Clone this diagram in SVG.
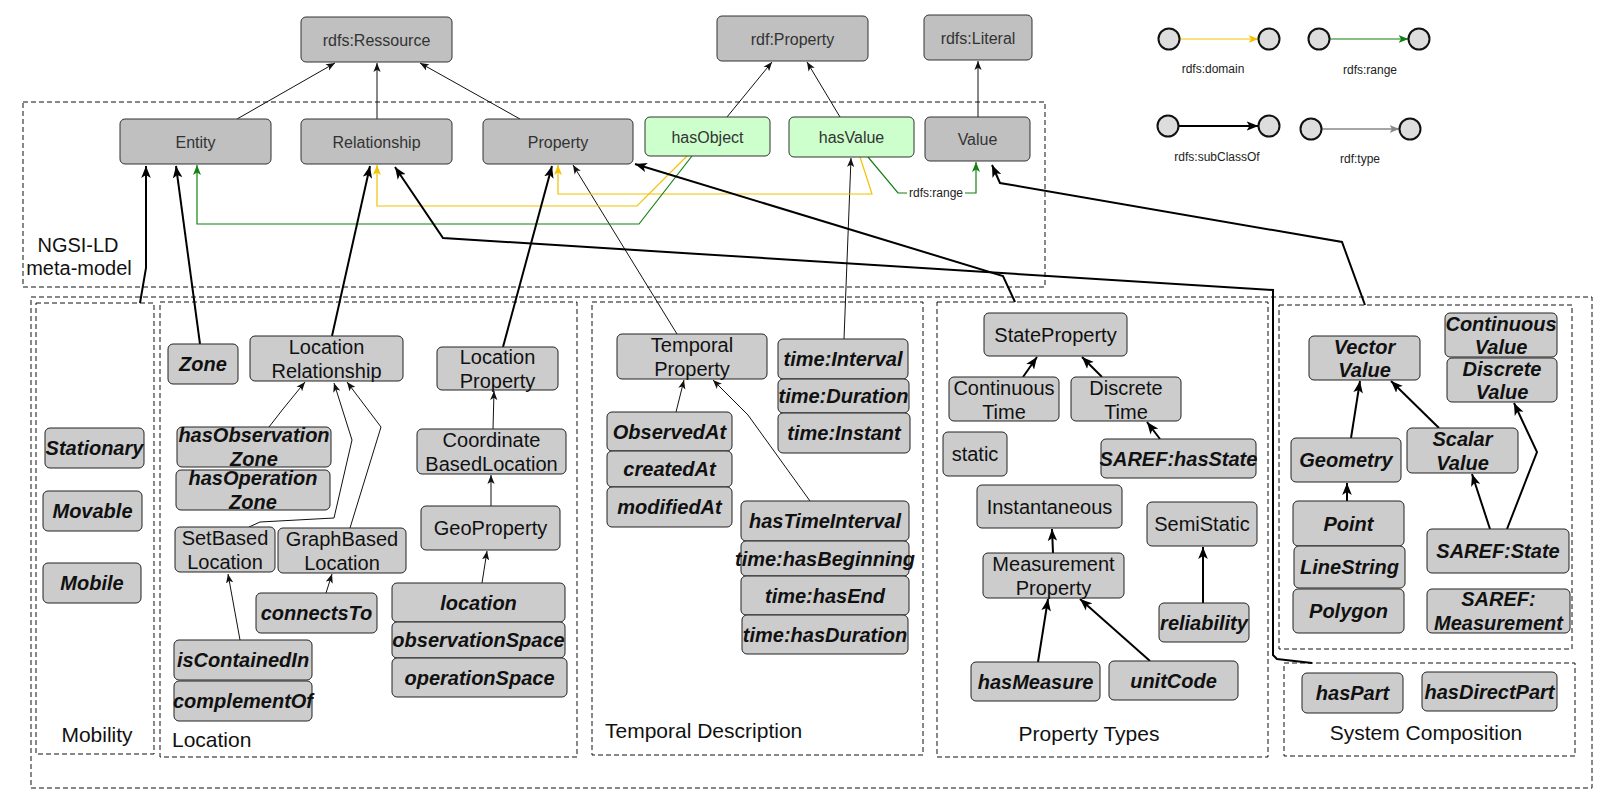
<svg xmlns="http://www.w3.org/2000/svg" width="1608" height="804" viewBox="0 0 1608 804">
<defs>
<style>
.bg{fill:#ffffff}
.n1{fill:#c0c0c0;stroke:#333;stroke-width:1}
.ng{fill:#ccffcc;stroke:#333;stroke-width:1}
.n2{fill:#cccccc;stroke:#222;stroke-width:1}
.t16{font-family:"Liberation Sans",Arial,sans-serif;font-size:16px;fill:#333;text-anchor:middle}
.t20{font-family:"Liberation Sans",Arial,sans-serif;font-size:20px;fill:#111;text-anchor:middle}
.tb{font-family:"Liberation Sans",Arial,sans-serif;font-size:20px;font-weight:bold;font-style:italic;fill:#111;text-anchor:middle}
.sec{font-family:"Liberation Sans",Arial,sans-serif;font-size:21px;fill:#111}
.lg{font-family:"Liberation Sans",Arial,sans-serif;font-size:12px;fill:#222;text-anchor:middle}
.dash{fill:none;stroke:#111;stroke-width:1;stroke-dasharray:5 3}
.thin{fill:none;stroke:#111;stroke-width:1;marker-end:url(#a)}
.thick{fill:none;stroke:#000;stroke-width:2;marker-end:url(#A)}
.yel{fill:none;stroke:#f2c200;stroke-width:1.2;marker-end:url(#ay)}
.grn{fill:none;stroke:#138013;stroke-width:1.2}
.grna{marker-end:url(#ag)}
.gry{fill:none;stroke:#888;stroke-width:1.5;marker-end:url(#ak)}
.circ{fill:#dddddd;stroke:#111;stroke-width:2}
</style>
<marker id="a" viewBox="0 0 10 8" refX="10" refY="4" markerWidth="9" markerHeight="8" markerUnits="userSpaceOnUse" orient="auto"><path d="M0,0 L10,4 L0,8 L2.5,4 z" fill="#111"/></marker>
<marker id="A" viewBox="0 0 10 8" refX="10" refY="4" markerWidth="12" markerHeight="10" markerUnits="userSpaceOnUse" orient="auto"><path d="M0,0 L10,4 L0,8 L2.5,4 z" fill="#000"/></marker>
<marker id="ay" viewBox="0 0 10 8" refX="10" refY="4" markerWidth="10" markerHeight="9" markerUnits="userSpaceOnUse" orient="auto"><path d="M0,0 L10,4 L0,8 L2.5,4 z" fill="#f2c200"/></marker>
<marker id="ag" viewBox="0 0 10 8" refX="10" refY="4" markerWidth="10" markerHeight="9" markerUnits="userSpaceOnUse" orient="auto"><path d="M0,0 L10,4 L0,8 L2.5,4 z" fill="#138013"/></marker>
<marker id="ak" viewBox="0 0 10 8" refX="10" refY="4" markerWidth="10" markerHeight="9" markerUnits="userSpaceOnUse" orient="auto"><path d="M0,0 L10,4 L0,8 L2.5,4 z" fill="#888"/></marker>
</defs>
<rect class="bg" x="0" y="0" width="1608" height="804"/>

<g id="containers">
<rect class="dash" x="23" y="102" width="1022" height="185"/>
<rect class="dash" x="31" y="297" width="1561" height="491"/>
<rect class="dash" x="36" y="303" width="118" height="451"/>
<rect class="dash" x="160" y="302" width="417" height="455"/>
<rect class="dash" x="592" y="302" width="331" height="453"/>
<rect class="dash" x="937" y="302" width="331" height="455"/>
<rect class="dash" x="1279" y="305" width="293" height="344"/>
<rect class="dash" x="1284" y="663" width="291" height="93"/>
<text class="sec" x="78" y="252" text-anchor="middle" style="font-size:20px">NGSI-LD</text>
<text class="sec" x="79" y="275" text-anchor="middle" style="font-size:20px">meta-model</text>
<text class="sec" x="97" y="742" text-anchor="middle">Mobility</text>
<text class="sec" x="172" y="747">Location</text>
<text class="sec" x="605" y="738">Temporal Description</text>
<text class="sec" x="1089" y="741" text-anchor="middle">Property Types</text>
<text class="sec" x="1426" y="740" text-anchor="middle">System Composition</text>
</g>

<g id="connectors">
<path class="thin" d="M237,119 L335,63"/>
<path class="thin" d="M377,119 L377,63"/>
<path class="thin" d="M520,119 L420,63"/>
<path class="thin" d="M727,117 L772,62"/>
<path class="thin" d="M840,117 L807,62"/>
<path class="thin" d="M978,117 L978,61"/>
<path class="thin" d="M677,334 L573,165"/>
<path class="thin" d="M844,339 L851,158"/>
<path class="yel" d="M687,156 L637,206 L377,206 L377,165"/>
<path class="yel" d="M860,157 L872,194 L558,194 L558,165"/>
<path class="grn grna" d="M692,156 L639,224 L197,224 L197,165"/>
<path class="grn" d="M868,157 L898,193 L907,193"/>
<path class="grn grna" d="M965,193 L976,193 L976,162"/>
<text class="lg" x="936" y="197">rdfs:range</text>
<path class="thick" d="M140,303 L146,268 L146,166"/>
<path class="thick" d="M200,344 L176,166"/>
<path class="thick" d="M332,336 L370,166"/>
<path class="thick" d="M503,347 L552,166"/>
<path class="thick" d="M1312,663 L1277,659 L1273,655 L1273,290 L443,238 L395,167"/>
<path class="thick" d="M1015,302 L1003,276 L635,164"/>
<path class="thick" d="M1365,305 L1342,242 L1000,183 L992,165"/>
<path class="thin" d="M269,427 L283,409 L305,382"/>
<path class="thin" d="M249,527 L260,522 L334,518 L352,440 L334,383"/>
<path class="thin" d="M350,528 L381,427 L347,382"/>
<path class="thin" d="M240,640 L228,574"/>
<path class="thin" d="M326,593 L332,574"/>
<path class="thin" d="M493,429 L494,391"/>
<path class="thin" d="M491,506 L491,475"/>
<path class="thin" d="M482,583 L487,551"/>
<path class="thin" d="M676,412 L684,380"/>
<path class="thin" d="M810,501 L748,415 L713,380"/>
<path class="thick" d="M1023,377 L1037,357"/>
<path class="thick" d="M1102,377 L1082,357"/>
<path class="thick" d="M1160,439 L1147,422"/>
<path class="thick" d="M1053,553 L1052,529"/>
<path class="thick" d="M1038,662 L1048,599"/>
<path class="thick" d="M1150,661 L1080,599"/>
<path class="thick" d="M1203,603 L1203,547"/>
<path class="thick" d="M1351,438 L1360,381"/>
<path class="thick" d="M1347,501 L1347,483"/>
<path class="thick" d="M1439,428 L1391,381"/>
<path class="thick" d="M1490,529 L1472,474"/>
<path class="thick" d="M1507,529 L1537,452 L1514,403"/>
</g>

<g id="legend">
<line class="yel" x1="1179.5" y1="39" x2="1258.5" y2="39"/>
<circle class="circ" cx="1169" cy="39" r="10.5"/>
<circle class="circ" cx="1269" cy="39" r="10.5"/>
<text class="lg" x="1213" y="73">rdfs:domain</text>
<line class="grn grna" x1="1329.5" y1="39" x2="1408.5" y2="39"/>
<circle class="circ" cx="1319" cy="39" r="10.5"/>
<circle class="circ" cx="1419" cy="39" r="10.5"/>
<text class="lg" x="1370" y="74">rdfs:range</text>
<line class="thick" x1="1178.5" y1="126" x2="1258.5" y2="126"/>
<circle class="circ" cx="1168" cy="126" r="10.5"/>
<circle class="circ" cx="1269" cy="126" r="10.5"/>
<text class="lg" x="1217" y="161">rdfs:subClassOf</text>
<line class="gry" x1="1321.5" y1="129" x2="1399.5" y2="129"/>
<circle class="circ" cx="1311" cy="129" r="10.5"/>
<circle class="circ" cx="1410" cy="129" r="10.5"/>
<text class="lg" x="1360" y="163">rdf:type</text>
</g>

<g id="rdfs-ressource"><rect class="n1" x="301" y="17" width="151" height="45" rx="5"/><text class="t16" x="376.5" y="45.5">rdfs:Ressource</text></g>
<g id="rdf-property"><rect class="n1" x="717" y="16" width="151" height="45" rx="5"/><text class="t16" x="792.5" y="44.5">rdf:Property</text></g>
<g id="rdfs-literal"><rect class="n1" x="924" y="15" width="108" height="45" rx="5"/><text class="t16" x="978" y="43.5">rdfs:Literal</text></g>
<g id="entity"><rect class="n1" x="120" y="119" width="151" height="45" rx="5"/><text class="t16" x="195.5" y="147.5">Entity</text></g>
<g id="relationship"><rect class="n1" x="301" y="119" width="151" height="45" rx="5"/><text class="t16" x="376.5" y="147.5">Relationship</text></g>
<g id="property"><rect class="n1" x="483" y="119" width="150" height="45" rx="5"/><text class="t16" x="558" y="147.5">Property</text></g>
<g id="hasObject"><rect class="ng" x="645" y="117" width="125" height="39" rx="5"/><text class="t16" x="707.5" y="142.5">hasObject</text></g>
<g id="hasValue"><rect class="ng" x="789" y="117" width="125" height="40" rx="5"/><text class="t16" x="851.5" y="143">hasValue</text></g>
<g id="value"><rect class="n1" x="925" y="117" width="105" height="44" rx="5"/><text class="t16" x="977.5" y="145">Value</text></g>

<g id="stationary"><rect class="n2" x="45" y="428" width="99" height="40" rx="5"/><text class="tb" x="94.5" y="455">Stationary</text></g>
<g id="movable"><rect class="n2" x="43" y="491" width="99" height="40" rx="5"/><text class="tb" x="92.5" y="518">Movable</text></g>
<g id="mobile"><rect class="n2" x="43" y="563" width="98" height="40" rx="5"/><text class="tb" x="92" y="590">Mobile</text></g>

<g id="zone"><rect class="n2" x="168" y="344" width="70" height="40" rx="5"/><text class="tb" x="203" y="371">Zone</text></g>
<g id="location-relationship"><rect class="n2" x="250" y="336" width="153" height="45" rx="5"/><text class="t20" x="326.5" y="354">Location</text><text class="t20" x="326.5" y="378">Relationship</text></g>
<g id="hasObservationZone"><rect class="n2" x="177" y="427" width="154" height="40" rx="5"/><text class="tb" x="254" y="442">hasObservation</text><text class="tb" x="254" y="466">Zone</text></g>
<g id="hasOperationZone"><rect class="n2" x="176" y="470" width="154" height="40" rx="5"/><text class="tb" x="253" y="485">hasOperation</text><text class="tb" x="253" y="509">Zone</text></g>
<g id="setBasedLocation"><rect class="n2" x="175" y="527" width="100" height="45" rx="5"/><text class="t20" x="225" y="545">SetBased</text><text class="t20" x="225" y="569">Location</text></g>
<g id="graphBasedLocation"><rect class="n2" x="278" y="528" width="128" height="45" rx="5"/><text class="t20" x="342" y="546">GraphBased</text><text class="t20" x="342" y="570">Location</text></g>
<g id="connectsTo"><rect class="n2" x="256" y="593" width="121" height="40" rx="5"/><text class="tb" x="316.5" y="620">connectsTo</text></g>
<g id="isContainedIn"><rect class="n2" x="174" y="640" width="138" height="40" rx="5"/><text class="tb" x="243" y="667">isContainedIn</text></g>
<g id="complementOf"><rect class="n2" x="174" y="681" width="138" height="40" rx="5"/><text class="tb" x="243" y="708">complementOf</text></g>
<g id="locationProperty"><rect class="n2" x="437" y="347" width="121" height="43" rx="5"/><text class="t20" x="497.5" y="364">Location</text><text class="t20" x="497.5" y="388">Property</text></g>
<g id="coordinateBasedLocation"><rect class="n2" x="417" y="429" width="149" height="45" rx="5"/><text class="t20" x="491.5" y="447">Coordinate</text><text class="t20" x="491.5" y="471">BasedLocation</text></g>
<g id="geoProperty"><rect class="n2" x="421" y="506" width="139" height="44" rx="5"/><text class="t20" x="490.5" y="535">GeoProperty</text></g>
<g id="location"><rect class="n2" x="392" y="583" width="173" height="39" rx="5"/><text class="tb" x="478.5" y="609.5">location</text></g>
<g id="observationSpace"><rect class="n2" x="392" y="622" width="173" height="36" rx="5"/><text class="tb" x="478.5" y="647">observationSpace</text></g>
<g id="operationSpace"><rect class="n2" x="392" y="658" width="175" height="39" rx="5"/><text class="tb" x="479.5" y="684.5">operationSpace</text></g>

<g id="temporalProperty"><rect class="n2" x="617" y="334" width="150" height="45" rx="5"/><text class="t20" x="692" y="352">Temporal</text><text class="t20" x="692" y="376">Property</text></g>
<g id="timeInterval"><rect class="n2" x="778" y="339" width="130" height="40" rx="5"/><text class="tb" x="843" y="366">time:Interval</text></g>
<g id="timeDuration"><rect class="n2" x="778" y="379" width="131" height="34" rx="5"/><text class="tb" x="843.5" y="403">time:Duration</text></g>
<g id="timeInstant"><rect class="n2" x="778" y="413" width="132" height="40" rx="5"/><text class="tb" x="844" y="440">time:Instant</text></g>
<g id="observedAt"><rect class="n2" x="607" y="412" width="125" height="39" rx="5"/><text class="tb" x="669.5" y="438.5">ObservedAt</text></g>
<g id="createdAt"><rect class="n2" x="607" y="451" width="125" height="36" rx="5"/><text class="tb" x="669.5" y="476">createdAt</text></g>
<g id="modifiedAt"><rect class="n2" x="607" y="487" width="125" height="40" rx="5"/><text class="tb" x="669.5" y="514">modifiedAt</text></g>
<g id="hasTimeInterval"><rect class="n2" x="741" y="501" width="168" height="40" rx="5"/><text class="tb" x="825" y="528">hasTimeInterval</text></g>
<g id="timeHasBeginning"><rect class="n2" x="741" y="541" width="168" height="35" rx="5"/><text class="tb" x="825" y="565.5">time:hasBeginning</text></g>
<g id="timeHasEnd"><rect class="n2" x="741" y="576" width="168" height="39" rx="5"/><text class="tb" x="825" y="602.5">time:hasEnd</text></g>
<g id="timeHasDuration"><rect class="n2" x="742" y="615" width="166" height="39" rx="5"/><text class="tb" x="825" y="641.5">time:hasDuration</text></g>

<g id="stateProperty"><rect class="n2" x="984" y="313" width="143" height="43" rx="5"/><text class="t20" x="1055.5" y="341.5">StateProperty</text></g>
<g id="continuousTime"><rect class="n2" x="949" y="377" width="110" height="44" rx="5"/><text class="t20" x="1004" y="395">Continuous</text><text class="t20" x="1004" y="419">Time</text></g>
<g id="discreteTime"><rect class="n2" x="1071" y="377" width="110" height="44" rx="5"/><text class="t20" x="1126" y="395">Discrete</text><text class="t20" x="1126" y="419">Time</text></g>
<g id="static"><rect class="n2" x="943" y="432" width="64" height="44" rx="5"/><text class="t20" x="975" y="461">static</text></g>
<g id="sarefHasState"><rect class="n2" x="1101" y="439" width="155" height="39" rx="5"/><text class="tb" x="1178.5" y="465.5">SAREF:hasState</text></g>
<g id="instantaneous"><rect class="n2" x="977" y="485" width="145" height="43" rx="5"/><text class="t20" x="1049.5" y="513.5">Instantaneous</text></g>
<g id="semiStatic"><rect class="n2" x="1147" y="502" width="110" height="44" rx="5"/><text class="t20" x="1202" y="531">SemiStatic</text></g>
<g id="measurementProperty"><rect class="n2" x="983" y="553" width="141" height="45" rx="5"/><text class="t20" x="1053.5" y="571">Measurement</text><text class="t20" x="1053.5" y="595">Property</text></g>
<g id="reliability"><rect class="n2" x="1159" y="603" width="90" height="39" rx="5"/><text class="tb" x="1204" y="629.5">reliability</text></g>
<g id="hasMeasure"><rect class="n2" x="971" y="662" width="129" height="39" rx="5"/><text class="tb" x="1035.5" y="688.5">hasMeasure</text></g>
<g id="unitCode"><rect class="n2" x="1109" y="661" width="129" height="39" rx="5"/><text class="tb" x="1173.5" y="687.5">unitCode</text></g>

<g id="vectorValue"><rect class="n2" x="1309" y="336" width="111" height="44" rx="5"/><text class="tb" x="1364.5" y="354">Vector</text><text class="tb" x="1364.5" y="377">Value</text></g>
<g id="continuousValue"><rect class="n2" x="1445" y="313" width="112" height="44" rx="5"/><text class="tb" x="1501" y="331">Continuous</text><text class="tb" x="1501" y="354">Value</text></g>
<g id="discreteValue"><rect class="n2" x="1447" y="358" width="110" height="44" rx="5"/><text class="tb" x="1502" y="376">Discrete</text><text class="tb" x="1502" y="399">Value</text></g>
<g id="geometry"><rect class="n2" x="1291" y="438" width="110" height="44" rx="5"/><text class="tb" x="1346" y="467">Geometry</text></g>
<g id="scalarValue"><rect class="n2" x="1407" y="428" width="111" height="45" rx="5"/><text class="tb" x="1462.5" y="446">Scalar</text><text class="tb" x="1462.5" y="470">Value</text></g>
<g id="point"><rect class="n2" x="1293" y="501" width="111" height="45" rx="5"/><text class="tb" x="1348.5" y="530.5">Point</text></g>
<g id="lineString"><rect class="n2" x="1294" y="546" width="111" height="42" rx="5"/><text class="tb" x="1349.5" y="574">LineString</text></g>
<g id="polygon"><rect class="n2" x="1293" y="589" width="111" height="44" rx="5"/><text class="tb" x="1348.5" y="618">Polygon</text></g>
<g id="sarefState"><rect class="n2" x="1427" y="529" width="142" height="44" rx="5"/><text class="tb" x="1498" y="558">SAREF:State</text></g>
<g id="sarefMeasurement"><rect class="n2" x="1427" y="589" width="143" height="44" rx="5"/><text class="tb" x="1498.5" y="606">SAREF:</text><text class="tb" x="1498.5" y="630">Measurement</text></g>
<g id="hasPart"><rect class="n2" x="1302" y="673" width="101" height="40" rx="5"/><text class="tb" x="1352.5" y="700">hasPart</text></g>
<g id="hasDirectPart"><rect class="n2" x="1422" y="672" width="135" height="39" rx="5"/><text class="tb" x="1489.5" y="698.5">hasDirectPart</text></g>
</svg>
